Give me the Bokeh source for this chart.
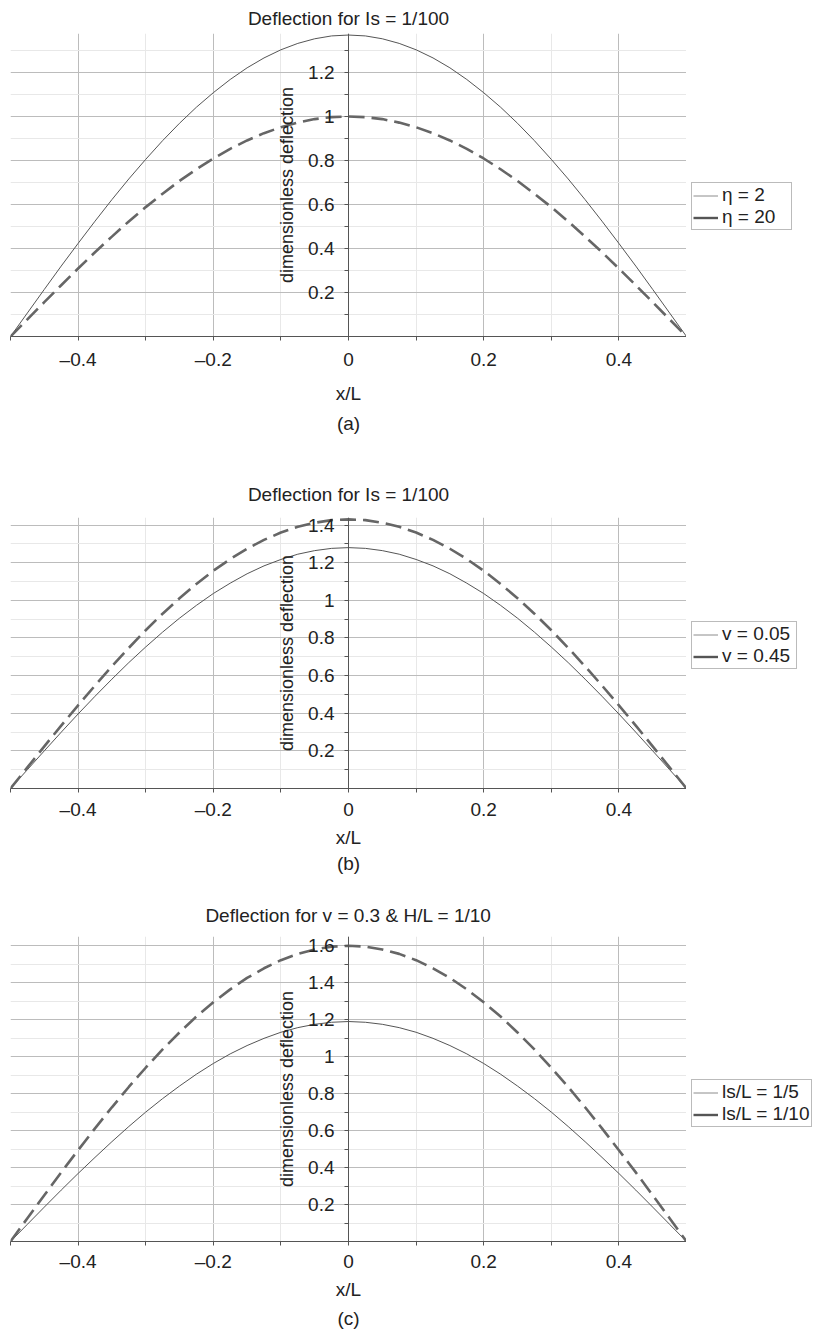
from bokeh.plotting import figure
from bokeh.models import (Range1d, LinearAxis, FixedTicker, Grid, Legend,
                          LegendItem, Title, CustomJSTickFormatter)
from bokeh.layouts import column, row
from bokeh.embed import file_html
from bokeh.resources import INLINE

# position along the span
x_over_L = [-0.5, -0.475, -0.45, -0.425, -0.4, -0.375, -0.35, -0.325, -0.3, -0.275,
            -0.25, -0.225, -0.2, -0.175, -0.15, -0.125, -0.1, -0.075, -0.05, -0.025,
            0.0, 0.025, 0.05, 0.075, 0.1, 0.125, 0.15, 0.175, 0.2, 0.225, 0.25,
            0.275, 0.3, 0.325, 0.35, 0.375, 0.4, 0.425, 0.45, 0.475, 0.5]

# (a) Is = 1/100, two values of eta
defl_eta2 = [0, 0.107, 0.214, 0.320, 0.423, 0.524, 0.622, 0.716, 0.805, 0.890,
             0.969, 1.042, 1.108, 1.168, 1.221, 1.266, 1.303, 1.332, 1.353, 1.366,
             1.370, 1.366, 1.353, 1.332, 1.303, 1.266, 1.221, 1.168, 1.108, 1.042,
             0.969, 0.890, 0.805, 0.716, 0.622, 0.524, 0.423, 0.320, 0.214, 0.107, 0]
defl_eta20 = [0, 0.078, 0.156, 0.233, 0.309, 0.383, 0.454, 0.523, 0.588, 0.649,
              0.707, 0.760, 0.809, 0.853, 0.891, 0.924, 0.951, 0.972, 0.988, 0.997,
              1.000, 0.997, 0.988, 0.972, 0.951, 0.924, 0.891, 0.853, 0.809, 0.760,
              0.707, 0.649, 0.588, 0.523, 0.454, 0.383, 0.309, 0.233, 0.156, 0.078, 0]

# (b) Is = 1/100, two Poisson ratios
defl_v005 = [0, 0.100, 0.200, 0.299, 0.396, 0.490, 0.581, 0.669, 0.752, 0.831,
             0.905, 0.973, 1.036, 1.091, 1.141, 1.183, 1.217, 1.245, 1.264, 1.276,
             1.280, 1.276, 1.264, 1.245, 1.217, 1.183, 1.141, 1.091, 1.036, 0.973,
             0.905, 0.831, 0.752, 0.669, 0.581, 0.490, 0.396, 0.299, 0.200, 0.100, 0]
defl_v045 = [0, 0.112, 0.224, 0.334, 0.442, 0.547, 0.649, 0.747, 0.841, 0.929,
             1.011, 1.087, 1.157, 1.219, 1.274, 1.321, 1.360, 1.391, 1.412, 1.426,
             1.430, 1.426, 1.412, 1.391, 1.360, 1.321, 1.274, 1.219, 1.157, 1.087,
             1.011, 0.929, 0.841, 0.747, 0.649, 0.547, 0.442, 0.334, 0.224, 0.112, 0]

# (c) v = 0.3, H/L = 1/10, two values of ls/L
defl_ls5 = [0, 0.093, 0.186, 0.278, 0.368, 0.455, 0.540, 0.622, 0.700, 0.773,
            0.841, 0.905, 0.963, 1.015, 1.060, 1.099, 1.132, 1.157, 1.175, 1.186,
            1.190, 1.186, 1.175, 1.157, 1.132, 1.099, 1.060, 1.015, 0.963, 0.905,
            0.841, 0.773, 0.700, 0.622, 0.540, 0.455, 0.368, 0.278, 0.186, 0.093, 0]
defl_ls10 = [0, 0.126, 0.250, 0.374, 0.494, 0.612, 0.726, 0.836, 0.940, 1.039,
             1.131, 1.217, 1.294, 1.364, 1.426, 1.478, 1.522, 1.556, 1.580, 1.595,
             1.600, 1.595, 1.580, 1.556, 1.522, 1.478, 1.426, 1.364, 1.294, 1.217,
             1.131, 1.039, 0.940, 0.836, 0.726, 0.612, 0.494, 0.374, 0.250, 0.126, 0]

x_major = [-0.4, -0.2, 0.0, 0.2, 0.4]
x_minor = [-0.5, -0.3, -0.1, 0.1, 0.3, 0.5]
y_major_a = [0.2, 0.4, 0.6, 0.8, 1.0, 1.2]
y_minor_a = [0.1, 0.3, 0.5, 0.7, 0.9, 1.1, 1.3]
y_major_b = [0.2, 0.4, 0.6, 0.8, 1.0, 1.2, 1.4]
y_minor_b = [0.1, 0.3, 0.5, 0.7, 0.9, 1.1, 1.3]
y_major_c = [0.2, 0.4, 0.6, 0.8, 1.0, 1.2, 1.4, 1.6]
y_minor_c = [0.1, 0.3, 0.5, 0.7, 0.9, 1.1, 1.3, 1.5]

FONT = "Liberation Sans"
TXT = "#222222"
PLOT_W = 686
LEG_W = 127

tick_fmt = CustomJSTickFormatter(code="""
    const v = Math.round(tick * 10) / 10;
    if (Math.abs(v) < 1e-9) return "0";
    return String(v).replace("-", "\u2013");
""")


def style_axis(ax, label_size):
    ax.axis_line_color = "#555555"
    ax.major_tick_line_color = "#555555"
    ax.minor_tick_line_color = "#555555"
    ax.major_tick_in = 0
    ax.major_tick_out = 4
    ax.minor_tick_in = 0
    ax.minor_tick_out = 4
    ax.major_label_text_font = FONT
    ax.major_label_text_font_size = "19px"
    ax.major_label_text_color = TXT
    ax.axis_label_text_font = FONT
    ax.axis_label_text_font_size = label_size
    ax.axis_label_text_font_style = "normal"
    ax.axis_label_text_color = TXT


def panel(title, tag, y_thin, y_dash, labels, y_top, y_major, y_minor,
          height, b_top, b_bottom, title_standoff, leg_y, leg_label_w,
          tick_standoff, label_standoff, tag_standoff):
    p = figure(width=PLOT_W, height=height, output_backend="svg", toolbar_location=None,
               x_range=Range1d(-0.5, 0.5), y_range=Range1d(0, y_top),
               x_axis_type=None, y_axis_type=None,
               min_border_left=10, min_border_right=0,
               min_border_top=b_top, min_border_bottom=b_bottom)
    p.outline_line_color = None
    p.background_fill_color = "white"
    p.border_fill_color = "white"

    p.title.text = title
    p.title.align = "center"
    p.title.text_font = FONT
    p.title.text_font_size = "19px"
    p.title.text_font_style = "normal"
    p.title.text_color = TXT
    p.title.standoff = title_standoff

    xt = FixedTicker(ticks=x_major, minor_ticks=x_minor)
    yt = FixedTicker(ticks=y_major, minor_ticks=y_minor)

    p.add_layout(Grid(dimension=0, ticker=xt, grid_line_color="#bcbcbc",
                      minor_grid_line_color="#e8e8e8"))
    p.add_layout(Grid(dimension=1, ticker=yt, grid_line_color="#bcbcbc",
                      minor_grid_line_color="#e8e8e8"))

    xax = LinearAxis(ticker=xt, formatter=tick_fmt, axis_label="x/L")
    style_axis(xax, "19px")
    xax.major_label_standoff = tick_standoff
    xax.axis_label_standoff = label_standoff
    p.add_layout(xax, "below")

    yax = LinearAxis(ticker=yt, formatter=tick_fmt,
                     axis_label="dimensionless deflection", fixed_location=0)
    style_axis(yax, "18px")
    yax.major_label_standoff = 10
    yax.axis_label_standoff = 8
    p.add_layout(yax, "left")

    p.line(x_over_L, y_thin, line_color="#555555", line_width=1)
    p.line(x_over_L, y_dash, line_color="#666666", line_width=2.6,
           line_dash="16 7")

    p.add_layout(Title(text=tag, align="center", text_font=FONT,
                       text_font_size="19px", text_font_style="normal",
                       text_color=TXT, standoff=tag_standoff), "below")

    # key to the right of the plot (its frame lines up with the plot frame)
    k = figure(width=LEG_W, height=height, output_backend="svg", toolbar_location=None,
               x_range=Range1d(0, 1), y_range=Range1d(0, 1),
               x_axis_type=None, y_axis_type=None, min_border=0)
    k.outline_line_color = None
    k.background_fill_color = "white"
    k.border_fill_color = "white"
    # swatch lines live on a range far above the visible area
    k.extra_y_ranges = {"swatch": Range1d(start=100, end=101)}
    s1 = k.line(x_over_L, y_thin, y_range_name="swatch",
                line_color="#8c8c8c", line_width=1)
    s2 = k.line(x_over_L, y_dash, y_range_name="swatch",
                line_color="#555555", line_width=2.4)
    leg = Legend(items=[LegendItem(label=labels[0], renderers=[s1]),
                        LegendItem(label=labels[1], renderers=[s2])],
                 location=(5, leg_y), orientation="vertical",
                 glyph_width=25, glyph_height=17, label_height=17,
                 label_width=leg_label_w,
                 label_standoff=4, spacing=-6, padding=1, margin=0,
                 border_line_color="#777777", border_line_width=1,
                 background_fill_color="white", background_fill_alpha=1,
                 label_text_font=FONT, label_text_font_size="19px",
                 label_text_color=TXT)
    k.add_layout(leg)
    return row(p, k, spacing=0)


pa = panel("Deflection for Is = 1/100", "(a)", defl_eta2, defl_eta20,
           ["\u03b7 = 2", "\u03b7 = 20"], 1.377, y_major_a, y_minor_a,
           450, 33, 114, 10, 106, 68, 8, 10, 8)
pb = panel("Deflection for Is = 1/100", "(b)", defl_v005, defl_v045,
           ["v = 0.05", "v = 0.45"], 1.44, y_major_b, y_minor_b,
           440, 67, 102, 26, 119, 73, 6, 4, 0)
pc = panel("Deflection for v = 0.3 & H/L = 1/10", "(c)", defl_ls5, defl_ls10,
           ["ls/L = 1/5", "ls/L = 1/10"], 1.65, y_major_c, y_minor_c,
           442, 46, 91, 22, 114, 20, 5, 4, 6)

page = column(pa, pb, pc, spacing=0)
with open("out.html", "w", encoding="utf-8") as f:
    f.write(file_html(page, INLINE))
